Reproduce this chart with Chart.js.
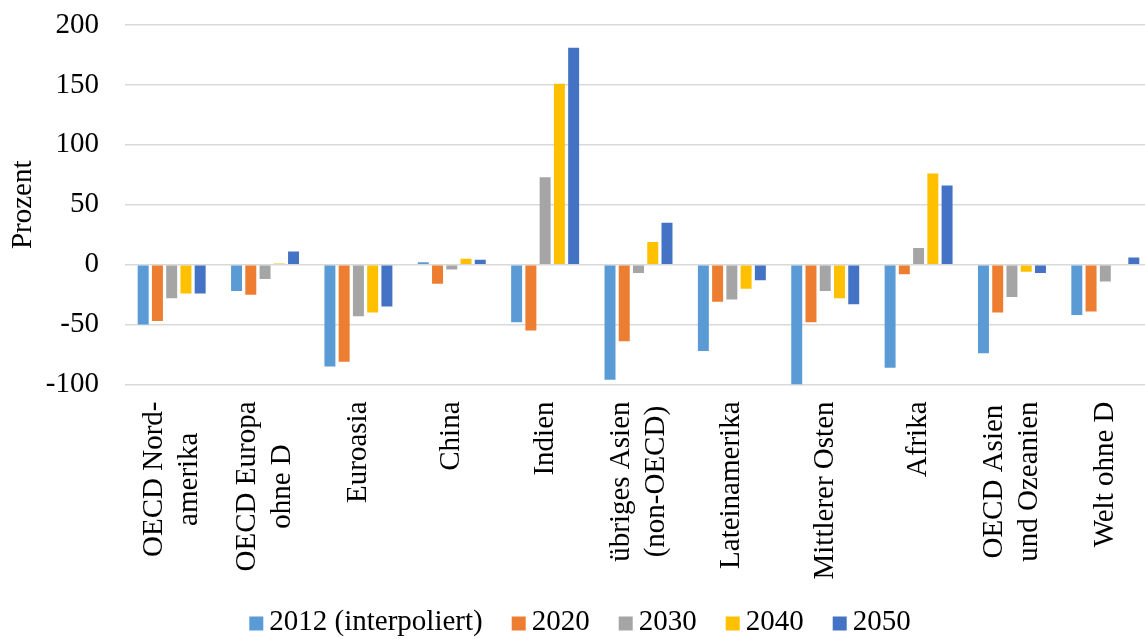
<!DOCTYPE html>
<html>
<head>
<meta charset="utf-8">
<script src="https://cdn.jsdelivr.net/npm/chart.js@4/dist/chart.umd.min.js"></script>
<style>
  html, body { margin: 0; padding: 0; background: #fff; overflow: hidden; }
  #wrap { position: relative; width: 1152px; height: 639px; }
</style>
</head>
<body>
<div id="wrap"><canvas id="chart"></canvas></div>
<script>
// category labels, one entry per line of the wrapped label
const regions = [
    ["OECD Nord-", "amerika"],
    ["OECD Europa", "ohne D"],
    ["Euroasia"],
    ["China"],
    ["Indien"],
    ["übriges Asien", "(non-OECD)"],
    ["Lateinamerika"],
    ["Mittlerer Osten"],
    ["Afrika"],
    ["OECD Asien", "und Ozeanien"],
    ["Welt ohne D"],
];

const seriesNames = ["2012 (interpoliert)", "2020", "2030", "2040", "2050"];
const seriesColors = ["#5B9BD5", "#ED7D31", "#A5A5A5", "#FFC000", "#4472C4"];

const v2012 = [-50, -22, -85, 2, -48, -96, -72, -100, -86, -74, -42];
const v2020 = [-47, -25, -81, -16, -55, -64, -31, -48, -8, -40, -39];
const v2030 = [-28, -12, -43, -4, 73, -7, -29, -22, 14, -27, -14];
const v2040 = [-24, 1, -40, 5, 151, 19, -20, -28, 76, -6, 0];
const v2050 = [-24, 11, -35, 4, 181, 35, -13, -33, 66, -7, 6];

const yTicks = [-100, -50, 0, 50, 100, 150, 200];
const yTitle = "Prozent";

const FONT_FAMILY = "'Liberation Serif', 'Times New Roman', serif";
const FONT_SIZE = 29;

// rotated category labels, lines centred on the longest one
const xLabelPlugin = {
    id: "xLabels",
    afterDraw(chart) {
        const ctx = chart.ctx;
        const xs = chart.scales.x;
        const top = chart.chartArea.bottom + 17;
        const lineH = 35;
        ctx.save();
        ctx.font = `${FONT_SIZE}px ${FONT_FAMILY}`;
        ctx.fillStyle = "#000";
        ctx.textAlign = "center";
        ctx.textBaseline = "middle";
        regions.forEach((lines, i) => {
            const x = xs.getPixelForValue(i);
            const maxW = Math.max(...lines.map((l) => ctx.measureText(l).width));
            ctx.save();
            ctx.translate(x, top);
            ctx.rotate(-Math.PI / 2);
            lines.forEach((l, j) => {
                ctx.fillText(l, -maxW / 2, (j - (lines.length - 1) / 2) * lineH);
            });
            ctx.restore();
        });
        ctx.restore();
    },
};

// legend with a tight gap between swatch and text
const legendPlugin = {
    id: "tightLegend",
    afterDraw(chart) {
        const ctx = chart.ctx;
        const box = 14;
        const gap = 6;
        const itemGap = 29;
        const y = 622.5;
        ctx.save();
        ctx.font = `${FONT_SIZE}px ${FONT_FAMILY}`;
        ctx.textBaseline = "middle";
        ctx.textAlign = "left";
        const widths = seriesNames.map((n) => box + gap + ctx.measureText(n).width);
        const total = widths.reduce((a, b) => a + b, 0) + itemGap * (widths.length - 1);
        let x = 580 - total / 2;
        seriesNames.forEach((n, i) => {
            ctx.fillStyle = seriesColors[i];
            ctx.fillRect(x, y - box / 2 + 1, box, box);
            ctx.fillStyle = "#000";
            ctx.fillText(n, x + box + gap, y);
            x += widths[i] + itemGap;
        });
        ctx.restore();
    },
};

const seriesValues = [v2012, v2020, v2030, v2040, v2050];

new Chart(document.getElementById("chart"), {
    type: "bar",
    data: {
        labels: regions.map((l) => l.join(" ")),
        datasets: seriesNames.map((name, i) => ({
            label: name,
            data: seriesValues[i],
            backgroundColor: seriesColors[i],
            borderWidth: 0,
            barPercentage: 0.77,
            categoryPercentage: 0.763,
        })),
    },
    options: {
        responsive: true,
        maintainAspectRatio: false,
        animation: false,
        layout: { padding: { top: 25, right: 0, bottom: 254.5, left: 0 } },
        plugins: {
            legend: { display: false },
            tooltip: { enabled: false },
        },
        scales: {
            x: {
                grid: { display: false },
                border: { display: false },
                ticks: { display: false },
                afterFit(scale) {
                    scale.height = 0;
                },
            },
            y: {
                min: yTicks[0],
                max: yTicks[yTicks.length - 1],
                afterBuildTicks(scale) {
                    scale.ticks = yTicks.map((v) => ({ value: v }));
                },
                afterFit(scale) {
                    scale.width = 125;
                },
                // invisible tick marks carry the gap between labels and plot
                grid: {
                    color: "#d9d9d9",
                    lineWidth: 1.5,
                    drawTicks: true,
                    tickLength: 26,
                    tickColor: "rgba(0,0,0,0)",
                },
                border: { display: false },
                ticks: {
                    padding: 0,
                    color: "#000",
                    font: { family: FONT_FAMILY, size: FONT_SIZE },
                },
                title: {
                    display: true,
                    text: yTitle,
                    color: "#000",
                    padding: { top: 6, bottom: 0 },
                    font: { family: FONT_FAMILY, size: FONT_SIZE },
                },
            },
        },
    },
    plugins: [xLabelPlugin, legendPlugin],
});
</script>
</body>
</html>
